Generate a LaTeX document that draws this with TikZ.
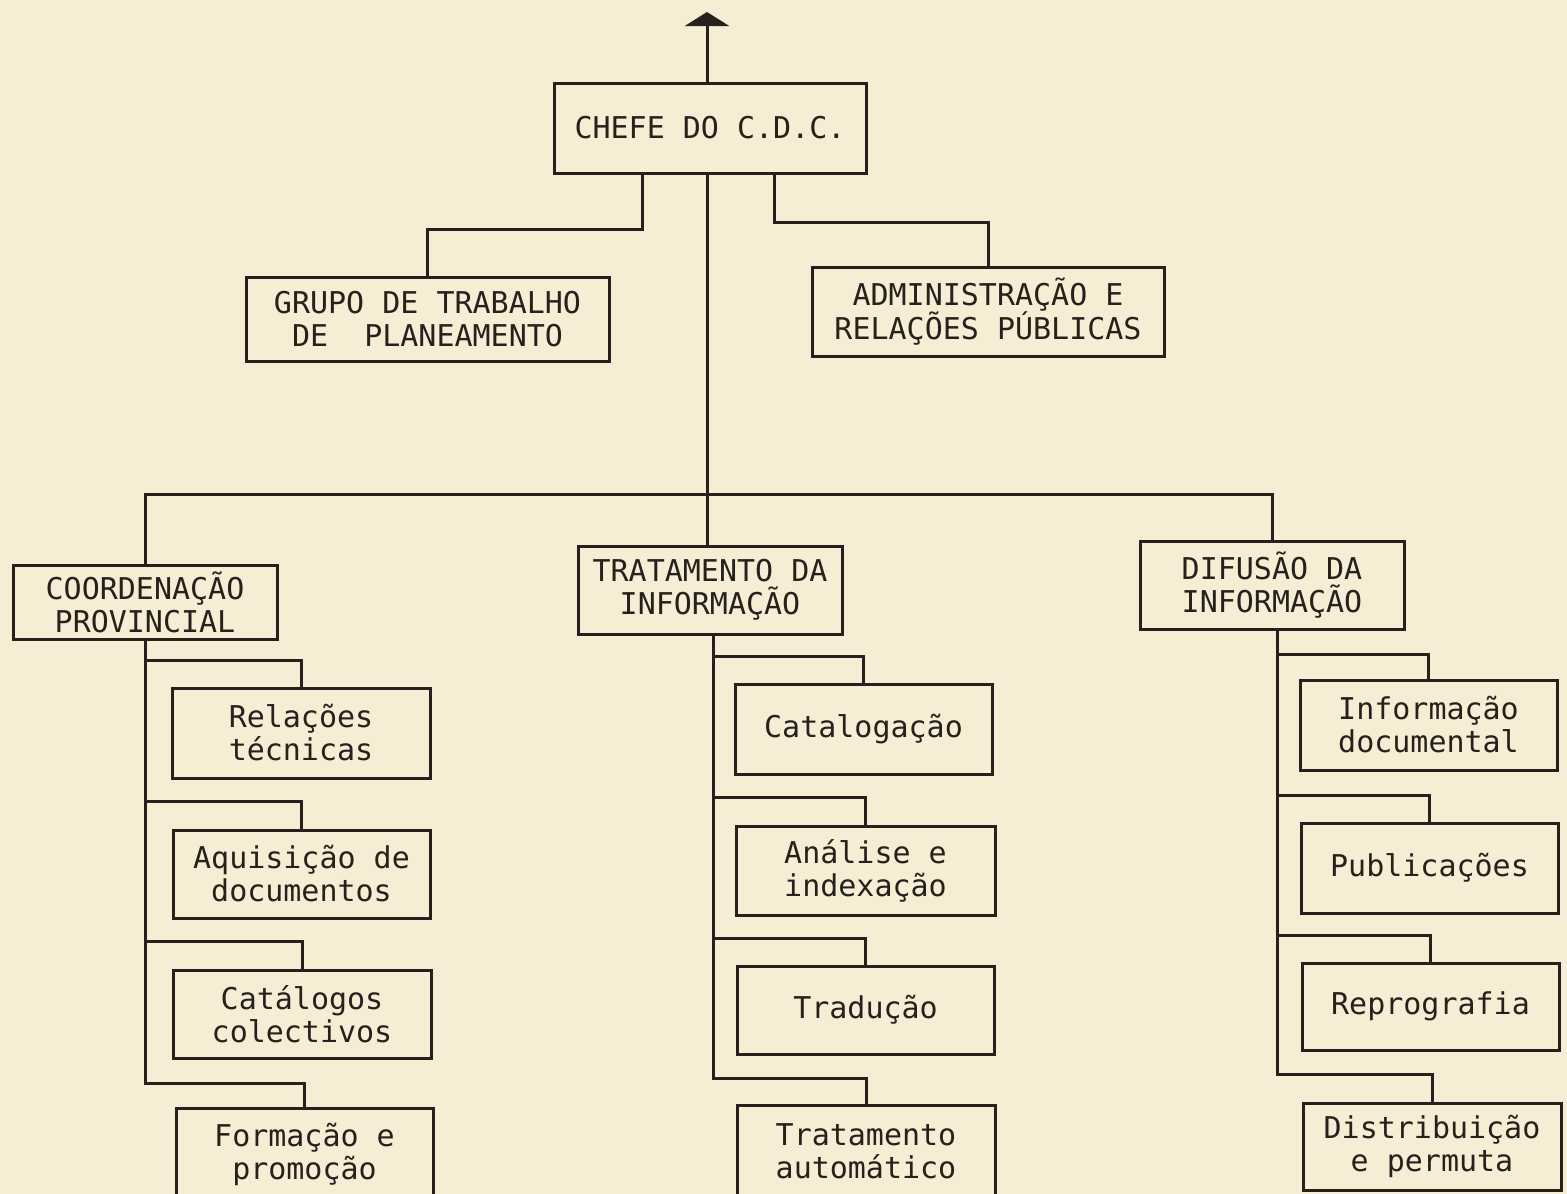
\documentclass[tikz,border=0pt]{standalone}
\usepackage{fontspec}
\usetikzlibrary{arrows.meta}
\newfontfamily\tw{DejaVu Sans Mono}
\definecolor{paper}{RGB}{246,237,212}
\definecolor{ink}{RGB}{38,33,28}
\tikzset{
  orgbox/.style={draw=ink, line width=3pt, rectangle, inner sep=0pt, align=center,
    text=ink, font=\tw\fontsize{30}{33}\selectfont},
  wire/.style={draw=ink, line width=3pt, line join=miter},
}
\begin{document}
\begin{tikzpicture}[x=1pt,y=-1pt]
\useasboundingbox (0,0) rectangle (1567,1194);
\fill[paper] (0,0) rectangle (1567,1194);
\clip (0,0) rectangle (1567,1194);

% top level
\node[orgbox, minimum width=312pt, minimum height=90pt] (chefe) at (710,128) {CHEFE DO C.D.C.};
\node[orgbox, minimum width=363pt, minimum height=84pt] (grupo) at (427.5,319) {GRUPO DE TRABALHO\\DE~~PLANEAMENTO};
\node[orgbox, minimum width=352pt, minimum height=89pt] (admin) at (988,311.5) {ADMINISTRAÇÃO E\\RELAÇÕES PÚBLICAS};

% second level
\node[orgbox, minimum width=264pt, minimum height=74pt] (coord) at (145,602) {COORDENAÇÃO\\PROVINCIAL};
\node[orgbox, minimum width=264pt, minimum height=88pt] (trat) at (710,590) {TRATAMENTO DA\\INFORMAÇÃO};
\node[orgbox, minimum width=264pt, minimum height=88pt] (dif) at (1272,585) {DIFUSÃO DA\\INFORMAÇÃO};

% left column
\node[orgbox, minimum width=258pt, minimum height=90pt] (rel) at (301,733) {Relações\\técnicas};
\node[orgbox, minimum width=257pt, minimum height=88pt] (aqu) at (301.5,874) {Aquisição de\\documentos};
\node[orgbox, minimum width=258pt, minimum height=88pt] (catc) at (302,1014) {Catálogos\\colectivos};
\node[orgbox, minimum width=257pt, minimum height=92pt] (form) at (304.5,1154) {Formação e\\promoção};

% middle column
\node[orgbox, minimum width=257pt, minimum height=90pt] (catal) at (863.5,729) {Catalogação};
\node[orgbox, minimum width=259pt, minimum height=89pt] (ana) at (865.5,870.5) {Análise e\\indexação};
\node[orgbox, minimum width=257pt, minimum height=88pt] (trad) at (865.5,1010) {Tradução};
\node[orgbox, minimum width=258pt, minimum height=93pt] (trau) at (866,1151.5) {Tratamento\\automático};

% right column
\node[orgbox, minimum width=257pt, minimum height=90pt] (inf) at (1428.5,725) {Informação\\documental};
\node[orgbox, minimum width=257pt, minimum height=90pt] (pub) at (1429.5,868) {Publicações};
\node[orgbox, minimum width=257pt, minimum height=87pt] (rep) at (1430.5,1006.5) {Reprografia};
\node[orgbox, minimum width=258pt, minimum height=87pt] (dis) at (1432,1146.5) {Distribuição\\e permuta};

% arrow up from chefe
\coordinate (up) at (707,12);
\draw[wire, -{Triangle[width=44pt,length=14pt]}] ([xshift=-3pt]chefe.north) -- (up);

% chefe to staff boxes
\draw[wire] ([xshift=-68pt]chefe.south) -- ++(0,55) -| (grupo.north);
\draw[wire] ([xshift=64pt]chefe.south) -- ++(0,48) -| (admin.north);

% main trunk and bus
\coordinate (bus) at (707,494);
\draw[wire] ([xshift=-3pt]chefe.south) -- (bus) -- ([xshift=-3pt]trat.north);
\draw[wire] (coord.north) |- (bus) -| (dif.north);

% left column connectors
\draw[wire] (coord.south) |- ([yshift=26pt]rel.north) -- (rel.north);
\draw[wire] (coord.south) |- ([yshift=27pt]aqu.north) -- (aqu.north);
\draw[wire] (coord.south) |- ([yshift=27pt]catc.north) -- (catc.north);
\draw[wire] (coord.south) |- ([yshift=23pt]form.north) -- (form.north);

% middle column connectors
\draw[wire] ([xshift=3pt]trat.south) |- ([yshift=26pt]catal.north) -- (catal.north);
\draw[wire] ([xshift=3pt]trat.south) |- ([yshift=27pt]ana.north) -- (ana.north);
\draw[wire] ([xshift=3pt]trat.south) |- ([yshift=26pt]trad.north) -- (trad.north);
\draw[wire] ([xshift=3pt]trat.south) |- ([yshift=25pt]trau.north) -- (trau.north);

% right column connectors
\draw[wire] ([xshift=5pt]dif.south) |- ([yshift=24pt]inf.north) -- (inf.north);
\draw[wire] ([xshift=5pt]dif.south) |- ([yshift=26pt]pub.north) -- (pub.north);
\draw[wire] ([xshift=5pt]dif.south) |- ([yshift=26pt]rep.north) -- (rep.north);
\draw[wire] ([xshift=5pt]dif.south) |- ([yshift=27pt]dis.north) -- (dis.north);
\end{tikzpicture}
\end{document}
